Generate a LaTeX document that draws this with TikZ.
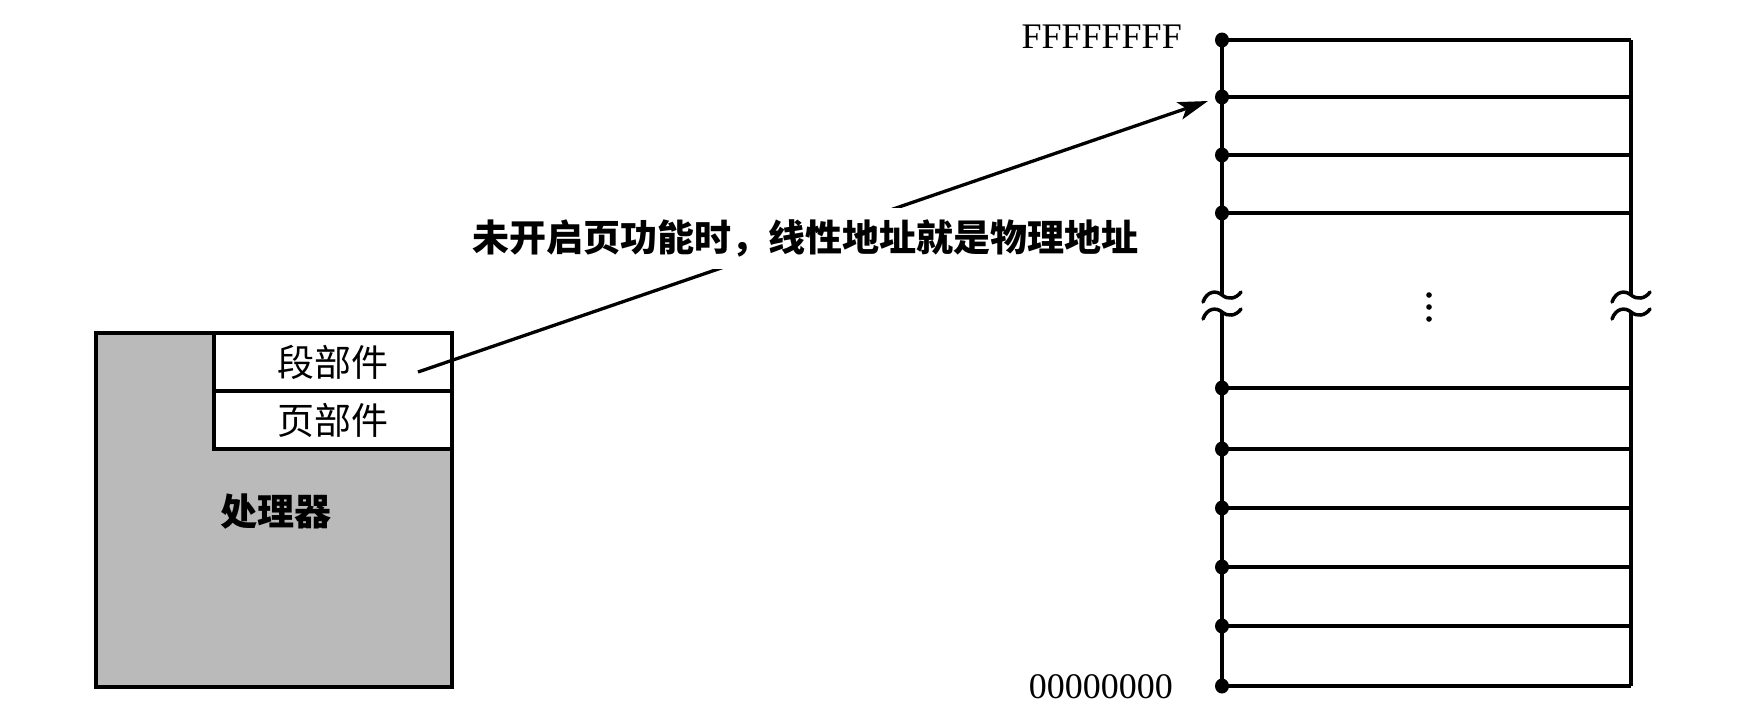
\documentclass[tikz,border=0pt]{standalone}
\usepackage{fontspec}
\setmainfont{Liberation Serif}
\newfontfamily\cjk{Noto Sans CJK SC}
\usetikzlibrary{arrows.meta}
\begin{document}
\begin{tikzpicture}[x=1pt,y=-1pt,
  cjktext/.style={inner sep=0pt, font=\cjk\fontsize{37pt}{40pt}\selectfont},
  cjkbold/.style={inner sep=0pt, font=\cjk\bfseries\fontsize{37pt}{40pt}\selectfont},
  addr/.style={inner sep=0pt, font=\fontsize{36pt}{40pt}\selectfont},
  memline/.style={line width=3.5pt},
  breakwave/.pic={\draw[line width=3.5pt, line cap=round] (-19,7) .. controls (-15,-4) and (-6,-5) .. (0,0) .. controls (6,5) and (14,4) .. (19,-3);}
]
\useasboundingbox (0,0) rectangle (1738,724);

% processor
\fill[black!27] (96,333) rectangle (452,687);
\fill[white] (214,333) rectangle (452,449);
\draw[line width=4.5pt] (96,333) rectangle (452,687);
\draw[line width=4.5pt] (214,333) -- (214,449) -- (452,449);
\draw[line width=4.5pt] (214,391) -- (452,391);
\node[cjktext] (seg) at (333,362) {段部件};
\node[cjktext] (page) at (333,420) {页部件};
\node[cjkbold] (cpu) at (276,512) {处理器};

% memory
\foreach \y [count=\i] in {40,97,155,213,388,449,508,567,626,686}{
  \coordinate (L\i) at (1222,\y);
  \coordinate (R\i) at (1631,\y);
  \draw[memline] (L\i) -- (R\i);
}
\draw[memline] (L1) -- (1222,295);
\draw[memline] (1222,312) -- (L10);
\draw[memline] (R1) -- (1631,295);
\draw[memline] (1631,312) -- (R10);
\pic at (1222,295) {breakwave};
\pic at (1222,312) {breakwave};
\pic at (1631,295) {breakwave};
\pic at (1631,312) {breakwave};
\foreach \i in {1,...,10}{
  \fill (L\i) ellipse [x radius=7pt, y radius=7.5pt];
}
\foreach \y in {295,307,319}{
  \fill (1429,\y) circle [radius=2.8pt];
}
\node[addr, anchor=base east] (top) at (1182,48) {FFFFFFFF};
\node[addr, anchor=base east] (bot) at (1173,698) {00000000};

% arrow
\coordinate (astart) at (418,372);
\coordinate (aend) at (1208,101);
\draw[line width=3.3pt, -{Stealth[length=30pt,width=18pt,inset=7pt]}] (astart) -- (aend);
\node[cjkbold, fill=white, minimum height=61pt, inner xsep=4pt] (label) at (805,238) {未开启页功能时，线性地址就是物理地址};
\end{tikzpicture}
\end{document}
